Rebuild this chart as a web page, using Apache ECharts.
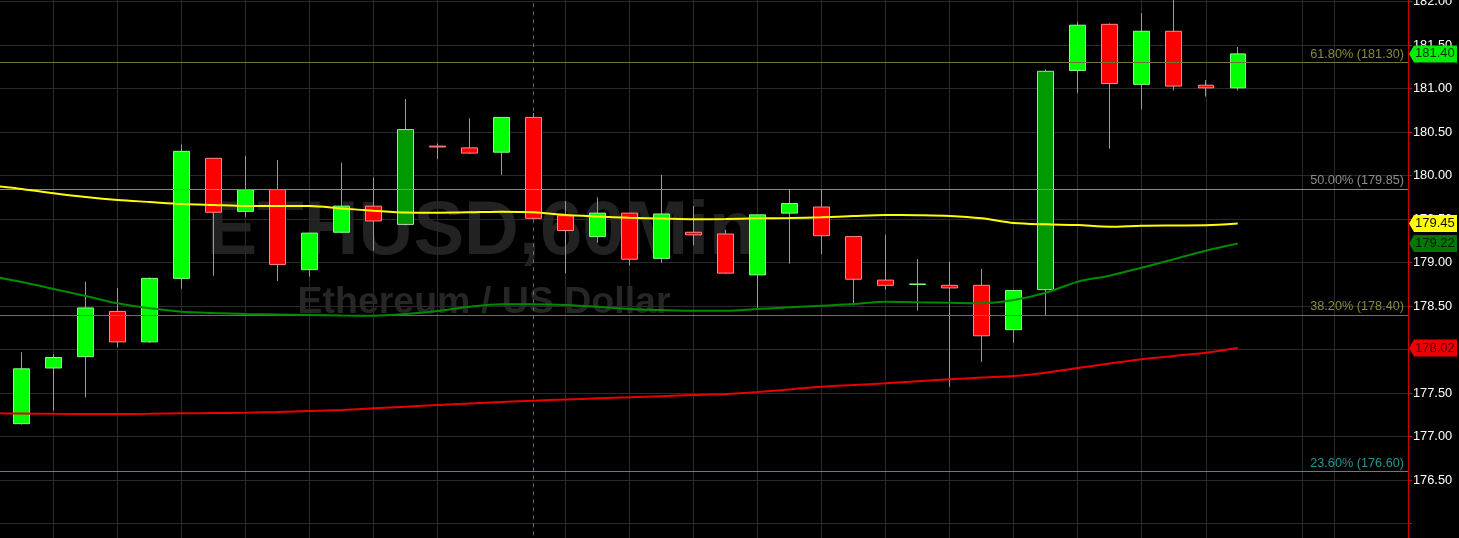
<!DOCTYPE html>
<html>
<head>
<meta charset="utf-8">
<script src="https://cdn.jsdelivr.net/npm/echarts@6/dist/echarts.min.js"></script>
<style>
html,body{margin:0;padding:0;background:#000;}
#c{width:1459px;height:538px;}
</style>
</head>
<body>
<div id="c"></div>
<script>
// ---- data (hourly ETHUSD candles, index 0..38) ----
const opens  = [177.15,177.79,177.92,178.44,178.09,178.82,180.20,179.59,179.84,178.92,179.35,179.65,179.44,180.34,180.32,180.27,180.67,179.54,179.30,179.57,179.05,179.35,179.33,178.86,179.57,179.64,179.30,178.80,178.75,178.74,178.74,178.23,178.69,181.21,181.74,181.05,181.66,181.04,181.01];
const highs  = [177.97,177.95,178.78,178.71,178.83,180.36,180.20,180.23,180.18,179.34,180.15,179.98,180.88,180.37,180.66,180.67,180.72,179.71,179.75,179.57,180.01,179.65,179.38,179.55,179.84,179.84,179.30,179.32,179.04,179.01,178.93,178.69,181.22,181.77,181.75,181.87,182.05,181.10,181.48];
const lows   = [177.14,177.30,177.45,178.03,178.08,178.70,178.85,179.53,178.79,178.84,179.34,179.14,179.43,180.19,180.25,180.01,179.50,178.88,179.23,178.97,179.00,179.20,178.87,178.46,178.99,179.10,178.51,178.69,178.45,177.57,177.86,178.08,178.40,180.95,180.31,180.76,180.98,180.91,180.98];
const closes = [177.78,177.91,178.48,178.09,178.82,180.28,179.58,179.84,178.98,179.34,179.65,179.48,180.53,180.33,180.26,180.67,179.51,179.37,179.57,179.04,179.56,179.32,178.88,179.55,179.68,179.31,178.81,178.74,178.755,178.71,178.16,178.68,181.20,181.73,181.06,181.66,181.03,181.01,181.40];
// moving averages, index -1..38
const maYellow = [179.887,179.847,179.798,179.755,179.721,179.698,179.675,179.663,179.652,179.652,179.652,179.623,179.598,179.577,179.575,179.579,179.586,179.579,179.548,179.531,179.517,179.508,179.499,179.502,179.510,179.514,179.522,179.537,179.548,179.545,179.537,179.510,179.456,179.441,179.433,179.414,179.425,179.428,179.430,179.45];
const maGreen  = [178.847,178.778,178.698,178.617,178.533,178.476,178.437,178.422,178.410,178.405,178.399,178.393,178.391,178.410,178.445,178.494,178.522,178.522,178.514,178.494,178.468,178.456,178.448,178.448,178.468,178.487,178.506,178.525,178.552,178.545,178.540,178.533,178.571,178.655,178.782,178.851,178.943,179.039,179.138,179.22];
const maRed    = [177.269,177.267,177.263,177.261,177.261,177.264,177.269,177.272,177.276,177.284,177.295,177.307,177.326,177.345,177.364,177.382,177.399,177.414,177.428,177.441,177.453,177.466,177.479,177.491,177.514,177.543,177.575,177.594,177.614,177.637,177.660,177.680,177.698,177.736,177.790,177.841,177.890,177.928,177.966,178.02];
// Fibonacci retracement levels
const fibPct = ['23.60%','38.20%','50.00%','61.80%'];
const fibVal = [176.60,178.40,179.85,181.30];
// vertical grid positions (candle index), day separator index
const gridIdx = [1,3,5,7,9,11,13,17,19,21,23,25,27,29,31,33,35,37,40,41];
const daySep = 16;
// emphasised (dark) up candles
const darkIdx = [12,32];
const titleMain = 'ETHUSD,60Min';
const titleSub = 'Ethereum / US Dollar';

// ---- styles ----
const FONT = '"Liberation Sans", Arial, sans-serif';
const fibColors = ['#14a0a0','#74743a','#8a8a8a','#74743a'];
const fibTextColors = ['#2a9494','#8a8a3c','#8c8c8c','#8a8a3c'];

const chart = echarts.init(document.getElementById('c'), null, {renderer:'canvas'});

const wickData = opens.map((o,i)=>[i,o,closes[i],lows[i],highs[i]]);
const bodyData = opens.map((o,i)=>{
  const c = closes[i];
  const item = {value:[i,o,c,Math.min(o,c),Math.max(o,c)]};
  if (darkIdx.indexOf(i) >= 0) item.itemStyle = {color:'#009a00', borderColor:'#b0d8b0'};
  return item;
});
const toXY = arr => arr.map((v,k)=>[k-1, v]);

const vLines = gridIdx.map(i=>({xAxis:i}));
vLines.push({xAxis:daySep, lineStyle:{type:[4,4], color:'#6a6a6a', width:1}});

const fibSeries = fibVal.map((v,k)=>({
  name:'fib'+k, type:'line', z:4, data:[], symbol:'none', color:fibColors[k],
  markLine:{silent:true, symbol:'none', animation:false,
    lineStyle:{color:fibColors[k], width:1, type:'solid', opacity:1},
    label:{show:true, position:'insideEndTop', distance:[4,2], color:fibTextColors[k],
      fontSize:12.7, fontFamily:FONT, formatter:fibPct[k]+' ('+v.toFixed(2)+')'},
    data:[{yAxis:v}]}
}));

const option = {
  backgroundColor:'#000',
  animation:false,
  grid:{left:0, right:51, top:-41.8, bottom:-29.2, containLabel:false, outerBoundsMode:'none'},
  xAxis:{type:'value', min:-0.678, max:43.32, show:false, axisLine:{onZero:false}},
  yAxis:{
    type:'value', position:'right', min:175.5, max:182.5, interval:0.5, scale:true,
    axisLine:{show:true, onZero:false, lineStyle:{color:'#d00000', width:1}},
    axisTick:{show:true, length:4, lineStyle:{color:'#d00000'}},
    axisLabel:{color:'#ffffff', fontSize:12.8, fontFamily:FONT, margin:5,
      formatter:v=> v < 176.2 ? '' : v.toFixed(2)},
    splitLine:{show:true, lineStyle:{color:'#2a2a2a', width:1}}
  },
  graphic:[
    {type:'text', z:-10, silent:true, style:{text:titleMain, x:481, y:233, fill:'#222222',
      font:'bold 76px '+FONT, align:'center', verticalAlign:'middle'}},
    {type:'text', z:-10, silent:true, style:{text:titleSub, x:484, y:303, fill:'#262626',
      font:'bold 37.5px '+FONT, align:'center', verticalAlign:'middle'}}
  ],
  series:[
    {
      name:'wick', type:'candlestick', z:2, barWidth:1,
      encode:{x:0, y:[1,2,3,4]},
      data:wickData,
      itemStyle:{color:'#9a9a9a', color0:'#9a9a9a', borderColor:'#9a9a9a', borderColor0:'#9a9a9a', borderWidth:1},
      markLine:{silent:true, symbol:'none', z:1, animation:false,
        label:{show:false},
        lineStyle:{color:'#2a2a2a', width:1, type:'solid'},
        data:vLines}
    },
    {
      name:'body', type:'candlestick', z:3, barWidth:16,
      encode:{x:0, y:[1,2,3,4]},
      data:bodyData,
      itemStyle:{color:'#00ff00', color0:'#ff0000', borderColor:'#88ff88', borderColor0:'#ff8888', borderWidth:1}
    }
  ].concat(fibSeries).concat([
    {name:'maRed', type:'line', z:5, data:toXY(maRed), symbol:'none', smooth:0.3,
      lineStyle:{color:'#e80000', width:2}},
    {name:'maGreen', type:'line', z:5, data:toXY(maGreen), symbol:'none', smooth:0.3,
      lineStyle:{color:'#008a00', width:2}},
    {name:'maYellow', type:'line', z:5, data:toXY(maYellow), symbol:'none', smooth:0.3,
      lineStyle:{color:'#ffff00', width:2}}
  ])
};
chart.setOption(option);

// price tags on the right axis
const last = closes.length - 1;
const tags = [
  {v:closes[last], bg:'#00ee00', fg:'#063806'},
  {v:maYellow[maYellow.length-1], bg:'#ffff00', fg:'#111100'},
  {v:maGreen[maGreen.length-1], bg:'#007800', fg:'#021a02'},
  {v:maRed[maRed.length-1], bg:'#ee0000', fg:'#4a0000'}
];
const axisX = chart.getWidth() - 51;
const W = chart.getWidth();
const extra = [];
tags.forEach(t=>{
  const y = chart.convertToPixel({yAxisIndex:0}, t.v);
  extra.push({type:'polygon', z:100, silent:true,
    shape:{points:[[axisX+1,y],[axisX+6,y-8.5],[W-2,y-8.5],[W-2,y+8.5],[axisX+6,y+8.5]]},
    style:{fill:t.bg}});
  extra.push({type:'text', z:101, silent:true,
    style:{text:t.v.toFixed(2), x:axisX+7, y:y, fill:t.fg, font:'13px '+FONT, verticalAlign:'middle'}});
});
chart.setOption({graphic:option.graphic.concat(extra)});
</script>
</body>
</html>
